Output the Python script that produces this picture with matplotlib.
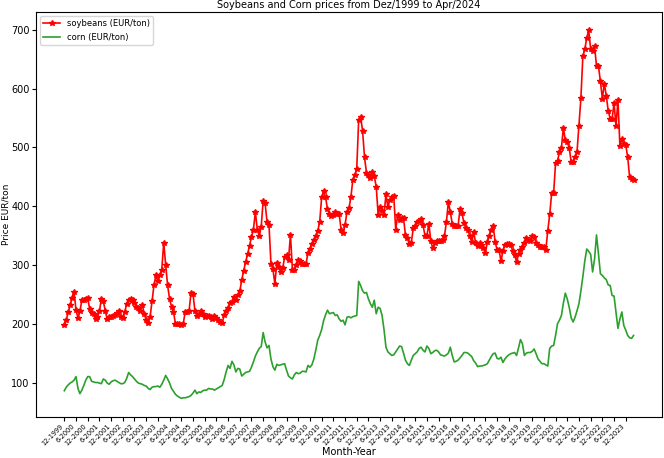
import matplotlib
matplotlib.use('Agg')
import matplotlib.pyplot as plt

# Monthly prices, Dec/1999 .. Apr/2024 (EUR/ton)
soybeans = [
    197, 206, 220, 231, 244, 254, 223, 210, 221, 240, 240, 242,
    244, 225, 219, 216, 208, 211, 221, 242, 238, 222, 208, 212,
    212, 213, 214, 219, 221, 211, 209, 220, 234, 241, 242, 240,
    236, 229, 226, 222, 232, 217, 206, 201, 212, 238, 266, 282,
    272, 282, 292, 338, 300, 265, 242, 229, 220, 200, 199, 199,
    198, 200, 220, 220, 222, 253, 251, 222, 213, 216, 222, 216,
    211, 213, 213, 211, 208, 213, 210, 206, 203, 201, 215, 221,
    226, 236, 237, 246, 241, 249, 255, 274, 290, 305, 318, 333,
    347, 360, 390, 360, 350, 365, 409, 405, 373, 368, 302, 293,
    268, 303, 296, 288, 294, 313, 317, 309, 351, 292, 291, 300,
    309, 306, 302, 302, 302, 321, 327, 336, 343, 350, 358, 373,
    415, 425, 415, 395, 386, 384, 385, 390, 386, 386, 360, 354,
    368, 390, 396, 415, 445, 453, 463, 547, 552, 528, 483, 457,
    453, 447, 458, 451, 433, 385, 399, 392, 385, 420, 398, 411,
    415, 417, 360, 385, 377, 379, 379, 351, 345, 336, 338, 362,
    367, 373, 375, 378, 368, 350, 350, 370, 341, 328, 337, 341,
    340, 341, 342, 349, 373, 407, 390, 370, 366, 367, 367, 395,
    388, 371, 362, 360, 349, 339, 356, 337, 333, 337, 334, 328,
    320, 339, 349, 360, 366, 339, 326, 326, 306, 324, 334, 336,
    336, 334, 324, 317, 305, 319, 326, 330, 337, 345, 343, 341,
    349, 347, 338, 334, 330, 330, 330, 326, 358, 386, 422, 422,
    473, 477, 492, 499, 533, 512, 509, 499, 475, 475, 483, 492,
    537, 584, 655, 667, 686, 699, 667, 663, 672, 638, 638, 612,
    583, 608, 588, 562, 549, 549, 575, 536, 581, 502, 514, 505,
    504, 483, 449, 446, 445,
]

corn = [
    86, 92, 96, 99, 101, 104, 110, 90, 81, 87, 95, 104,
    110, 110, 102, 101, 100, 100, 99, 98, 106, 104, 99, 97,
    101, 103, 104, 102, 100, 98, 98, 100, 107, 117, 113, 110,
    106, 102, 99, 98, 97, 95, 94, 90, 88, 92, 93, 93,
    94, 92, 97, 104, 112, 106, 99, 90, 85, 80, 77, 75,
    73, 74, 74, 75, 76, 78, 82, 87, 81, 84, 83, 86,
    87, 87, 90, 89, 89, 87, 89, 91, 93, 95, 105, 118,
    129, 124, 136, 130, 118, 124, 123, 111, 114, 117, 118, 119,
    126, 135, 145, 152, 158, 161, 185, 169, 159, 163, 140, 127,
    121, 131, 129, 130, 131, 132, 121, 111, 108, 106, 113, 117,
    115, 116, 119, 119, 118, 129, 126, 130, 140, 155, 172, 180,
    190, 205, 215, 223, 217, 218, 219, 214, 215, 208, 204, 206,
    198, 211, 212, 210, 212, 213, 214, 272, 265, 256, 252, 253,
    242, 234, 228, 240, 217, 228, 226, 214, 190, 160, 152, 149,
    146, 147, 152, 157, 162, 161, 150, 138, 132, 129, 138, 146,
    149, 152, 158, 160, 155, 152, 162, 158, 149, 151, 154, 155,
    152, 147, 146, 145, 147, 150, 160, 146, 135, 136, 138, 142,
    146, 151, 151, 150, 147, 144, 137, 133, 127, 128, 128, 129,
    130, 132, 138, 144, 149, 150, 141, 140, 143, 134, 140, 144,
    147, 149, 150, 151, 146, 159, 173, 166, 146, 150, 151, 151,
    153, 157, 149, 140, 136, 132, 132, 130, 128, 158, 162, 163,
    180, 200, 206, 214, 235, 252, 242, 228, 210, 203, 211, 222,
    234, 256, 280, 307, 327, 323, 318, 288, 310, 351, 319, 285,
    282, 278, 275, 266, 265, 248, 247, 220, 192, 208, 220, 197,
    189, 180, 176, 175, 180,
]

# "month-year" labels, one per month starting 12-1999
months = [f'{(11 + k) % 12 + 1}-{1999 + (11 + k) // 12}' for k in range(len(soybeans))]
tick_pos = list(range(0, len(months), 6))
tick_labels = [months[k] for k in tick_pos]

x = list(range(len(months)))

fig = plt.figure(figsize=(6.64, 4.58), dpi=100)
plt.plot(x, soybeans, color='red', marker='*', markersize=4, linewidth=1.2,
         label='soybeans (EUR/ton)')
plt.plot(x, corn, color='tab:green', linewidth=1.2, label='corn (EUR/ton)')

plt.title('Soybeans and Corn prices from Dez/1999 to Apr/2024', fontsize=7, pad=3)
plt.xlabel('Month-Year', fontsize=7, labelpad=0)
plt.ylabel('Price EUR/ton', fontsize=6.5, labelpad=0.5)
plt.xticks(tick_pos, tick_labels, rotation=45, ha='right', fontsize=4.8)
plt.yticks(fontsize=7)
plt.tick_params(axis='both', length=3, pad=1.5)
plt.legend(loc='upper left', fontsize=6)

plt.subplots_adjust(left=0.054, right=0.997, top=0.974, bottom=0.09)
plt.savefig('out.png')
